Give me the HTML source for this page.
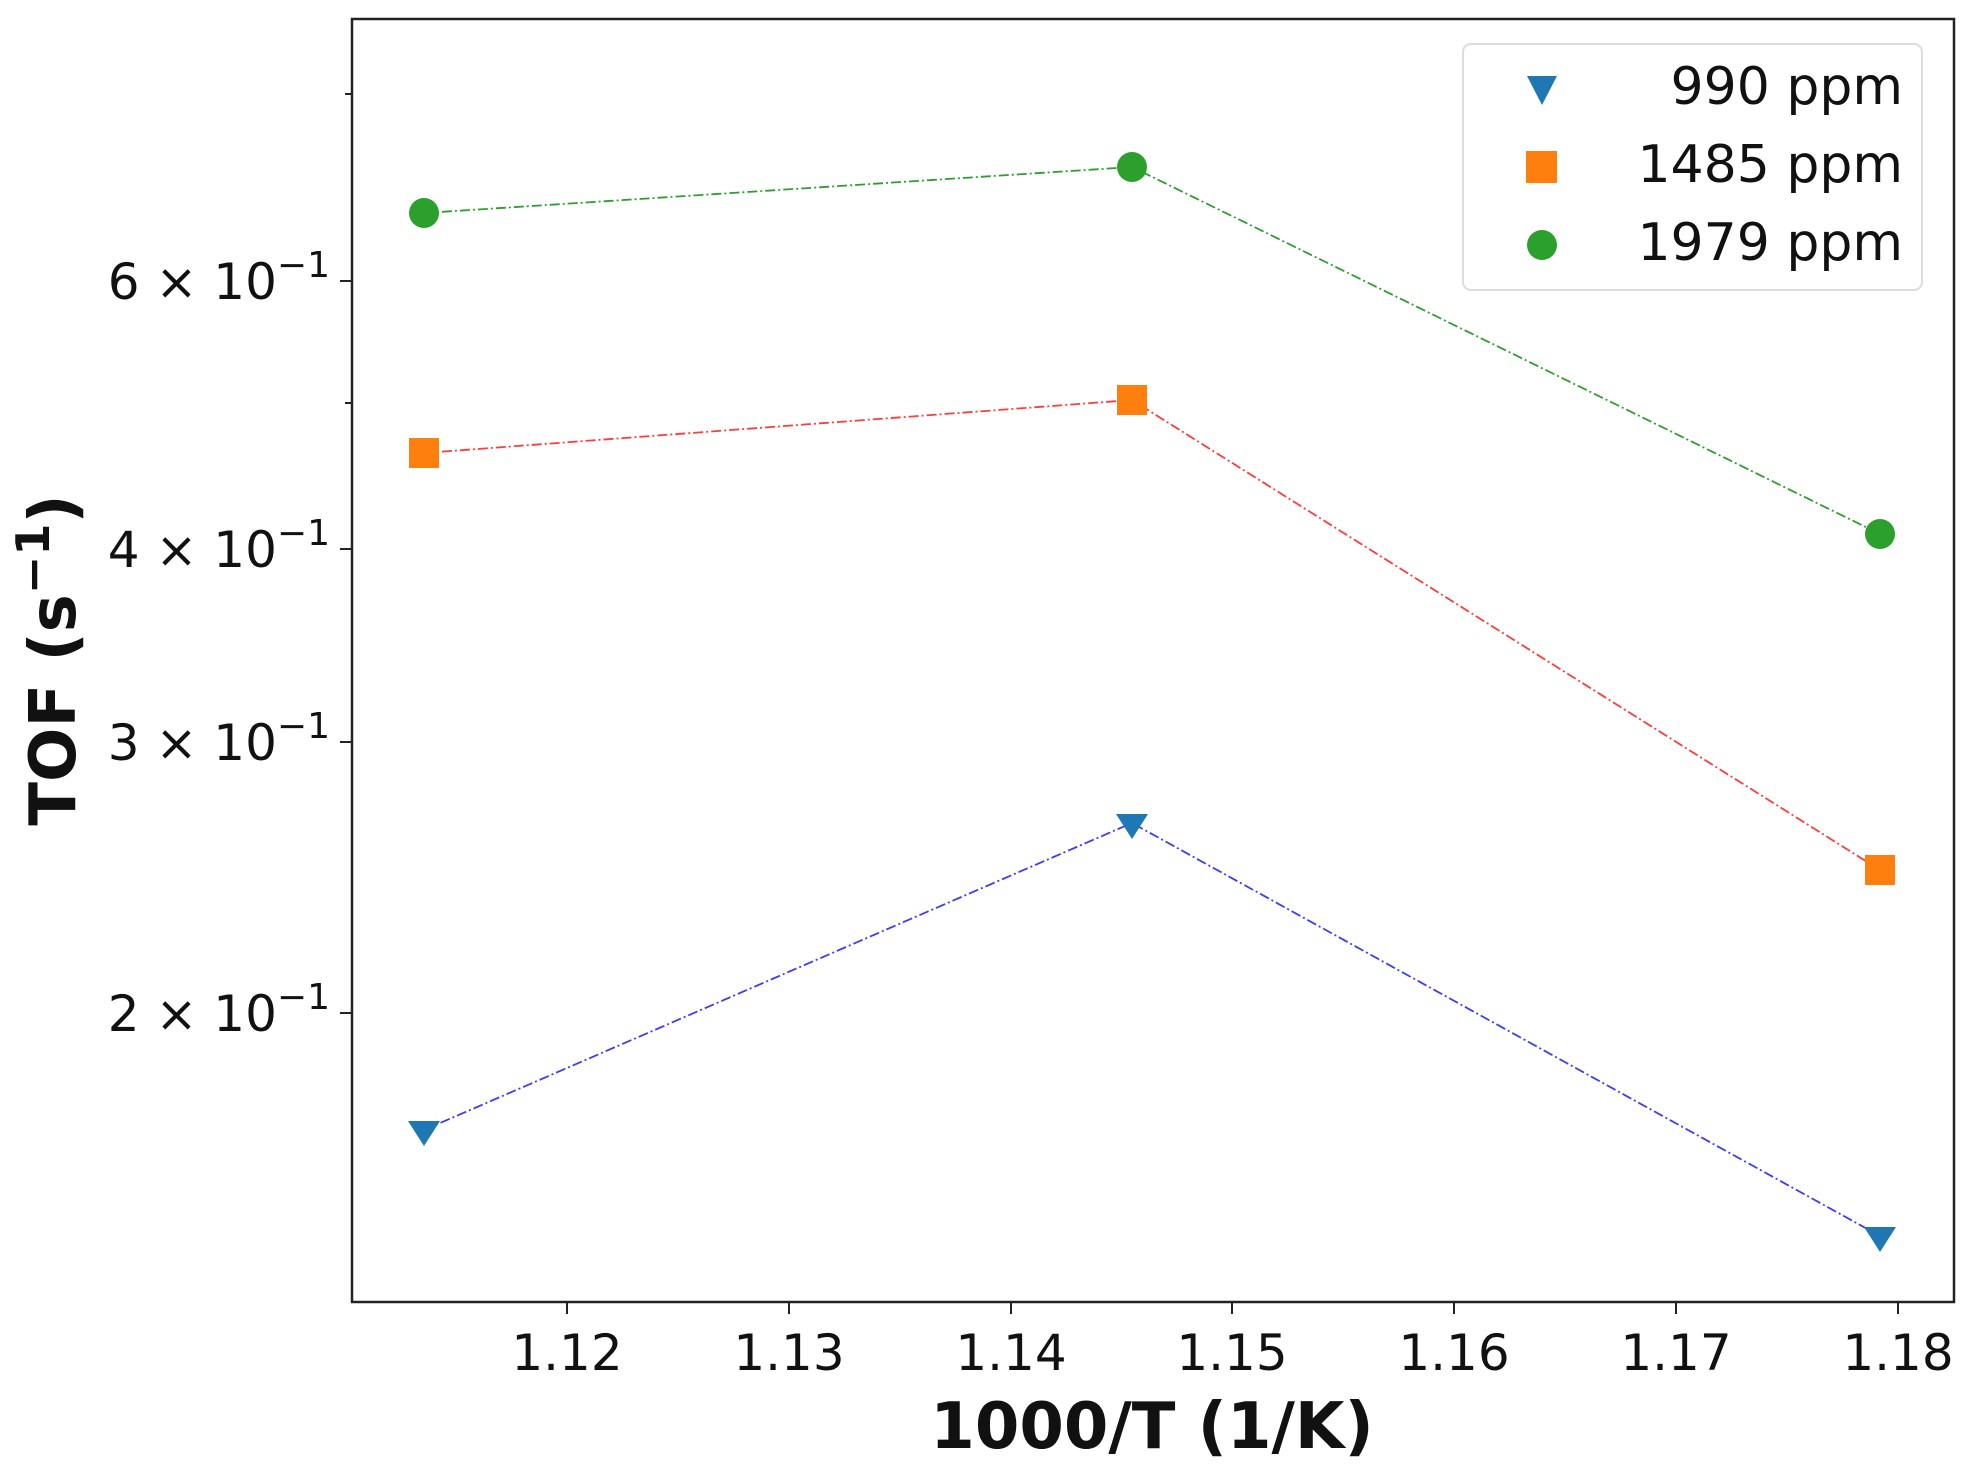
<!DOCTYPE html>
<html><head><meta charset="utf-8"><style>html,body{margin:0;padding:0;background:#fff}svg{display:block}</style></head><body>
<svg width="1965" height="1467" viewBox="0 0 1965 1467" xmlns="http://www.w3.org/2000/svg" font-family="DejaVu Sans, Liberation Sans, sans-serif">
<rect width="1965" height="1467" fill="#fff"/>
<g fill="none" stroke-width="1.8" stroke-dasharray="10,3,2,3">
<polyline points="424,213 1132,167 1880,534" stroke="#2ca02c"/>
<polyline points="424,453 1132,400 1880,870" stroke="#ff3b3b"/>
<polyline points="424,1130 1132,823 1880,1236" stroke="#3b3bff"/>
</g>
<g fill="#2ca02c"><circle cx="424" cy="213" r="15"/><circle cx="1132" cy="167" r="15"/><circle cx="1880" cy="534" r="15"/></g>
<g fill="#ff7f0e"><rect x="409" y="438" width="30" height="30"/><rect x="1117" y="385" width="30" height="30"/><rect x="1865" y="855" width="30" height="30"/></g>
<g fill="#1f77b4"><path d="M408,1121 L440,1121 L424,1146 Z"/><path d="M1116,814 L1148,814 L1132,839 Z"/><path d="M1864,1227 L1896,1227 L1880,1252 Z"/></g>
<rect x="352" y="19" width="1602" height="1283" fill="none" stroke="#222" stroke-width="2.5"/>
<g stroke="#222" stroke-width="2">
<line x1="567" y1="1302" x2="567" y2="1314"/><line x1="789" y1="1302" x2="789" y2="1314"/><line x1="1011" y1="1302" x2="1011" y2="1314"/><line x1="1232" y1="1302" x2="1232" y2="1314"/><line x1="1454" y1="1302" x2="1454" y2="1314"/><line x1="1676" y1="1302" x2="1676" y2="1314"/><line x1="1898" y1="1302" x2="1898" y2="1314"/>
<line x1="340" y1="281" x2="352" y2="281"/><line x1="340" y1="549" x2="352" y2="549"/><line x1="340" y1="742" x2="352" y2="742"/><line x1="340" y1="1013" x2="352" y2="1013"/>
<line x1="345" y1="94" x2="352" y2="94"/><line x1="345" y1="403" x2="352" y2="403"/>
</g>
<g font-size="50" fill="#111" text-anchor="middle">
<text x="567" y="1370">1.12</text><text x="789" y="1370">1.13</text><text x="1011" y="1370">1.14</text><text x="1232" y="1370">1.15</text><text x="1454" y="1370">1.16</text><text x="1676" y="1370">1.17</text><text x="1898" y="1370">1.18</text>
</g>
<g font-size="50" fill="#111" text-anchor="end">
<text x="330" y="299">6 × 10<tspan font-size="36" dy="-22">−1</tspan></text>
<text x="330" y="567">4 × 10<tspan font-size="36" dy="-22">−1</tspan></text>
<text x="330" y="760">3 × 10<tspan font-size="36" dy="-22">−1</tspan></text>
<text x="330" y="1031">2 × 10<tspan font-size="36" dy="-22">−1</tspan></text>
</g>
<text x="1152" y="1448" font-size="64" font-weight="bold" text-anchor="middle" fill="#111">1000/T (1/K)</text>
<text transform="translate(75,660) rotate(-90)" font-size="64" font-weight="bold" text-anchor="middle" fill="#111">TOF (s<tspan font-size="46" dy="-26">−1</tspan><tspan dy="26">)</tspan></text>
<rect x="1463" y="44" width="459" height="246" rx="8" fill="#fff" stroke="#ddd" stroke-width="2"/>
<path d="M1527,76 L1557,76 L1542,105 Z" fill="#1f77b4"/>
<rect x="1526" y="151" width="31" height="32" fill="#ff7f0e"/>
<circle cx="1542" cy="245" r="15" fill="#2ca02c"/>
<g font-size="52" fill="#111" text-anchor="end">
<text x="1903" y="104">990 ppm</text><text x="1903" y="182">1485 ppm</text><text x="1903" y="260">1979 ppm</text>
</g>
</svg>
</body></html>
